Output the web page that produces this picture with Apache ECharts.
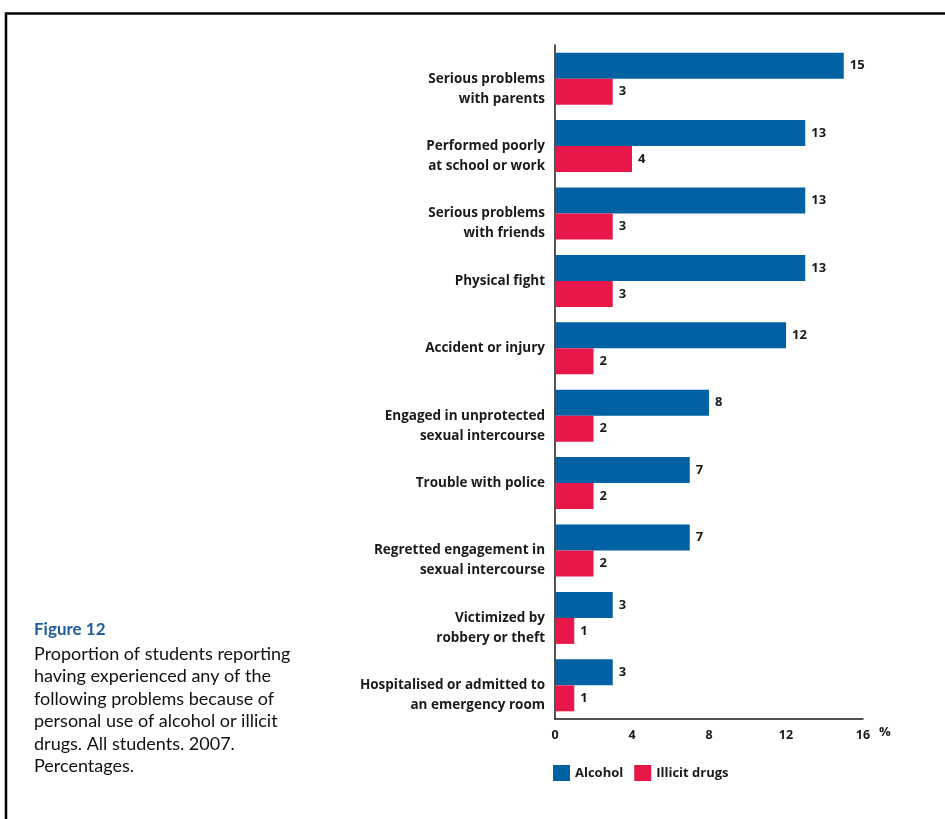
<!DOCTYPE html>
<html>
<head>
<meta charset="utf-8">
<title>Figure 12</title>
<script src="https://cdn.jsdelivr.net/npm/echarts@6/dist/echarts.min.js"></script>
<style>
    html, body { margin: 0; padding: 0; background: #fff; }
    #chart { width: 945px; height: 819px; }
</style>
</head>
<body>
<div id="chart"></div>
<script>
/**
 * Figure 12 - problems because of alcohol or illicit drugs
 */

// categories, top to bottom
const categories = [
    'Serious problems\nwith parents',
    'Performed poorly\nat school or work',
    'Serious problems\nwith friends',
    'Physical fight',
    'Accident or injury',
    'Engaged in unprotected\nsexual intercourse',
    'Trouble with police',
    'Regretted engagement in\nsexual intercourse',
    'Victimized by\nrobbery or theft',
    'Hospitalised or admitted to\nan emergency room'
];

// percentages
const alcohol = [15, 13, 13, 13, 12, 8, 7, 7, 3, 3];
const illicitDrugs = [3, 4, 3, 3, 2, 2, 2, 2, 1, 1];

const seriesNames = ['Alcohol', 'Illicit drugs'];
const xTicks = [0, 4, 8, 12, 16];

const captionTitle = 'Figure 12';
const captionText = [
    'Proportion of students reporting',
    'having experienced any of the',
    'following problems because of',
    'personal use of alcohol or illicit',
    'drugs. All students. 2007.',
    'Percentages.'
];

document.addEventListener('DOMContentLoaded', function () {
    initChart();
});

function initChart() {
    if (typeof echarts === 'undefined') {
        console.error('ECharts not loaded');
        return;
    }

    const chart = echarts.init(document.getElementById('chart'));
    const labelFont = '"Open Sans", sans-serif';
    const textColor = '#1a1a1a';

    const valueLabel = {
        show: true,
        position: 'right',
        distance: 6,
        color: textColor,
        fontSize: 13,
        fontWeight: 'bold',
        fontFamily: labelFont
    };

    chart.setOption({
        animation: false,
        backgroundColor: '#fff',
        grid: { left: 555, top: 45, right: 82, bottom: 100 },
        legend: {
            left: 553,
            top: 765,
            padding: 0,
            itemWidth: 17,
            itemHeight: 16,
            itemGap: 11,
            icon: 'rect',
            data: seriesNames,
            textStyle: { color: textColor, fontSize: 13, fontWeight: 'bold', fontFamily: labelFont }
        },
        xAxis: {
            type: 'value',
            min: xTicks[0],
            max: xTicks[xTicks.length - 1],
            interval: 4,
            splitLine: { show: false },
            axisTick: { show: false },
            axisLine: { show: true, lineStyle: { color: textColor, width: 1.5 } },
            axisLabel: { color: textColor, fontSize: 12.5, fontWeight: 'bold', fontFamily: labelFont, margin: 10 }
        },
        yAxis: {
            type: 'category',
            inverse: true,
            data: categories,
            axisTick: { show: false },
            axisLine: { show: true, lineStyle: { color: textColor, width: 1.5 } },
            axisLabel: {
                color: textColor,
                fontSize: 13.5,
                fontWeight: 'bold',
                fontFamily: labelFont,
                lineHeight: 20,
                margin: 10,
                // two-line labels start at the band centre
                formatter: function (value) {
                    return value.indexOf('\n') >= 0 ? '\n' + value : value;
                }
            }
        },
        series: [
            {
                name: seriesNames[0],
                type: 'bar',
                data: alcohol,
                barWidth: 26,
                barGap: '0%',
                itemStyle: { color: '#0062a3' },
                label: valueLabel
            },
            {
                name: seriesNames[1],
                type: 'bar',
                data: illicitDrugs,
                barWidth: 26,
                barGap: '0%',
                itemStyle: { color: '#e8174a' },
                label: valueLabel
            }
        ],
        graphic: [
            // frame
            {
                type: 'polyline',
                shape: { points: [[6, 819], [6, 13.5], [945, 13.5]] },
                style: { stroke: '#000', lineWidth: 2.5, fill: null }
            },
            // unit
            {
                type: 'text',
                left: 879,
                top: 726,
                style: { text: '%', fill: textColor, fontSize: 13, fontWeight: 'bold', fontFamily: labelFont }
            },
            // caption
            {
                type: 'text',
                left: 34,
                top: 621,
                style: { text: captionTitle, fill: '#1f5c99', fontSize: 17, fontWeight: 'bold', fontFamily: 'Lato, sans-serif' }
            },
            {
                type: 'text',
                left: 34,
                top: 643,
                style: {
                    text: captionText.join('\n'),
                    fill: '#111',
                    fontSize: 18,
                    lineHeight: 22.4,
                    fontFamily: 'Lato, sans-serif'
                }
            }
        ]
    });

    window.addEventListener('resize', function () {
        chart.resize();
    });
}
</script>
</body>
</html>
